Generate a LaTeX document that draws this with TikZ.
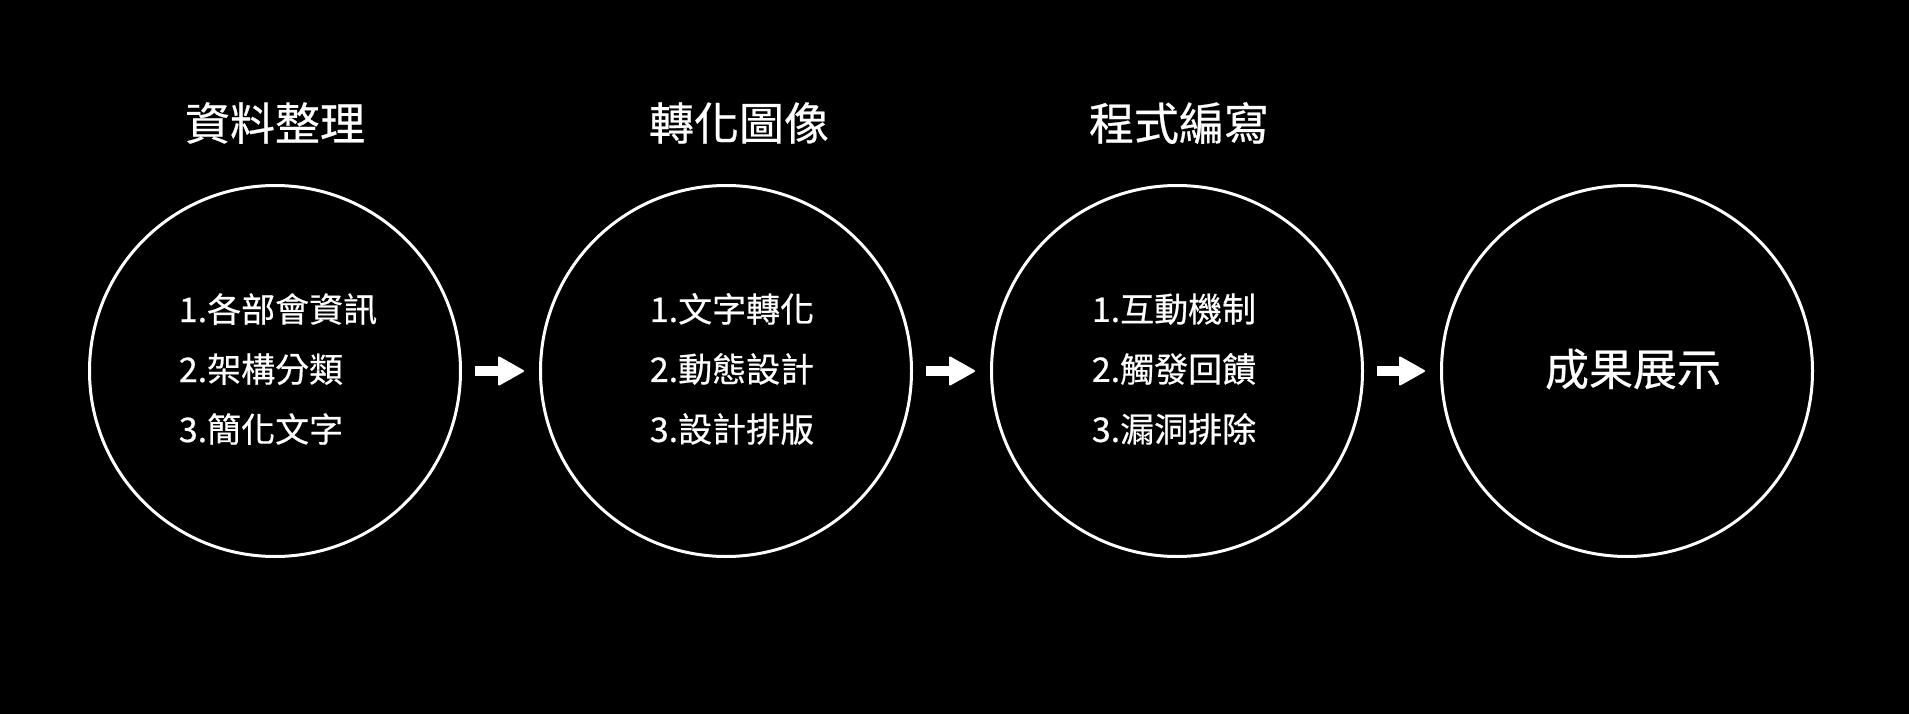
\documentclass[tikz,border=0pt]{standalone}
\usepackage{fontspec}
\setmainfont{Noto Sans CJK TC}
\newfontfamily\cjkmed[FakeBold=0.5]{Noto Sans CJK TC}
\usetikzlibrary{arrows.meta}
\tikzset{
  stage/.style={circle, draw=white, line width=3pt, minimum size=371pt, inner sep=0pt},
  title/.style={text=white, font=\cjkmed\fontsize{45}{54}\selectfont, inner sep=0pt},
  items/.style={text=white, font=\cjkmed\fontsize{34}{60}\selectfont, align=left, inner sep=0pt},
  final/.style={text=white, font=\cjkmed\fontsize{44}{52}\selectfont, inner sep=0pt},
  flow/.style={white, line width=10pt,
    -{Triangle[length=27pt, width=30pt, round, line width=2pt]},
    shorten <=13pt, shorten >=15pt}
}
\begin{document}
\begin{tikzpicture}[x=1pt, y=-1pt]
  \fill[black] (0,0) rectangle (1909,714);
  \useasboundingbox (0,0) rectangle (1909,714);

  \node[stage] (c1) at (275,371) {};
  \node[stage] (c2) at (726,371) {};
  \node[stage] (c3) at (1177,371) {};
  \node[stage] (c4) at (1627,371) {};

  \node[title] (t1) at (275,123) {資料整理};
  \node[title] (t2) at (739,123) {轉化圖像};
  \node[title] (t3) at (1179,123) {程式編寫};

  \node[items] (i1) at (278,369) {1.各部會資訊\\2.架構分類\\3.簡化文字};
  \node[items] (i2) at (732,369) {1.文字轉化\\2.動態設計\\3.設計排版};
  \node[items] (i3) at (1174,369) {1.互動機制\\2.觸發回饋\\3.漏洞排除};
  \node[final] (f4) at (1633,369) {成果展示};

  \draw[flow] (c1.east) -- (c2.west);
  \draw[flow] (c2.east) -- (c3.west);
  \draw[flow] (c3.east) -- (c4.west);
\end{tikzpicture}
\end{document}
